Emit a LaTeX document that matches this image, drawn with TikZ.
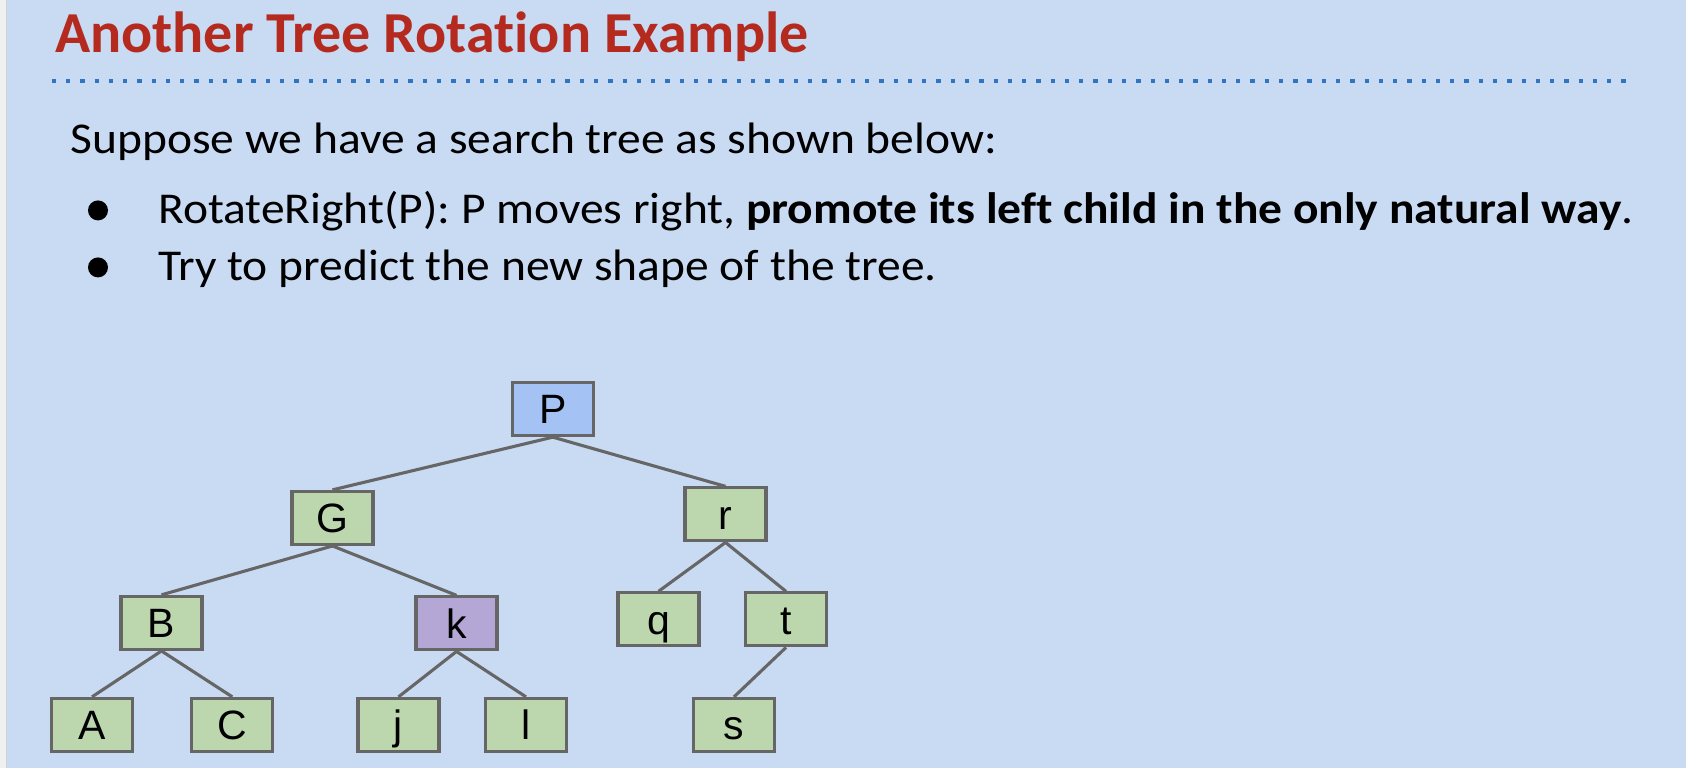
\documentclass[tikz,border=0pt]{standalone}
\usepackage{fontspec}
\setmainfont{Carlito}[Ligatures=NoCommon, FakeStretch=1.08]
\newfontfamily\headfont{Carlito}[Ligatures=NoCommon]
\newfontfamily\labelfont{Liberation Sans}
\definecolor{slidebg}{HTML}{C9DAF3}
\definecolor{edgegray}{HTML}{666666}
\definecolor{leafgreen}{HTML}{BCD7AE}
\definecolor{rootblue}{HTML}{A4C2F4}
\definecolor{keypurple}{HTML}{B4A7D6}
\definecolor{titlered}{HTML}{B52A1F}
\definecolor{ruleblue}{HTML}{2F75C2}
\tikzset{
  treebox/.style={draw=edgegray, line width=3.1pt, fill=leafgreen, inner sep=0pt,
    minimum width=81pt, minimum height=53pt, text height=29.4pt, text depth=0pt,
    font=\labelfont\fontsize{41}{45}\selectfont},
  link/.style={draw=edgegray, line width=3.1pt},
  bodytext/.style={inner sep=0pt, anchor=base west, font=\fontsize{44}{50}\selectfont},
}
\begin{document}
\begin{tikzpicture}[x=1pt, y=-1pt]
  % slide background and left margin strip
  \fill[slidebg] (0,0) rectangle (1686,768);
  \fill[gray!12] (0,0) rectangle (6.5,768);
  \draw[gray!35, line width=0.8pt] (6.5,0) -- (6.5,768);
  \useasboundingbox (0,0) rectangle (1686,768);

  % title and dotted rule
  \node[inner sep=0pt, anchor=base west, text=titlered,
        font=\headfont\bfseries\fontsize{58}{64}\selectfont] (title) at (55,51.7) {Another Tree Rotation Example};
  \coordinate (ruleL) at (51.7,80.7);
  \coordinate (ruleR) at (1627,80.7);
  \draw[ruleblue, line width=3.4pt, dash pattern=on 4.3pt off 9.97pt] (ruleL) -- (ruleR);

  % body text
  \node[bodytext] (intro) at (70.5,152.7) {Suppose we have a search tree as shown below:};
  \fill (98,210) circle (10);
  \node[bodytext] (item1) at (158,222.7) {RotateRight(P): P moves right, \textbf{promote its left child in the only natural way}.};
  \fill (98,267) circle (10);
  \node[bodytext] (item2) at (158,280) {Try to predict the new shape of the tree.};

  % tree nodes
  \node[treebox, fill=rootblue] (P) at (552.8,408.7) {P};
  \node[treebox] (G) at (332.5,517.5) {G};
  \node[treebox] (r) at (725.5,514) {r};
  \node[treebox] (B) at (161.5,622.5) {B};
  \node[treebox, fill=keypurple] (k) at (456.5,623) {k};
  \node[treebox] (q) at (658.5,619) {q};
  \node[treebox] (t) at (786,619) {t};
  \node[treebox] (A) at (92,724.5) {A};
  \node[treebox] (C) at (232.3,724.5) {C};
  \node[treebox] (j) at (398.5,724.5) {j};
  \node[treebox] (l) at (526,724.5) {l};
  \node[treebox] (s) at (734,724.5) {s};

  % tree edges
  \draw[link] (P.south) -- (G.north);
  \draw[link] (P.south) -- (r.north);
  \draw[link] (G.south) -- (B.north);
  \draw[link] (G.south) -- (k.north);
  \draw[link] (r.south) -- (q.north);
  \draw[link] (r.south) -- (t.north);
  \draw[link] (B.south) -- (A.north);
  \draw[link] (B.south) -- (C.north);
  \draw[link] (k.south) -- (j.north);
  \draw[link] (k.south) -- (l.north);
  \draw[link] (t.south) -- (s.north);
\end{tikzpicture}
\end{document}
